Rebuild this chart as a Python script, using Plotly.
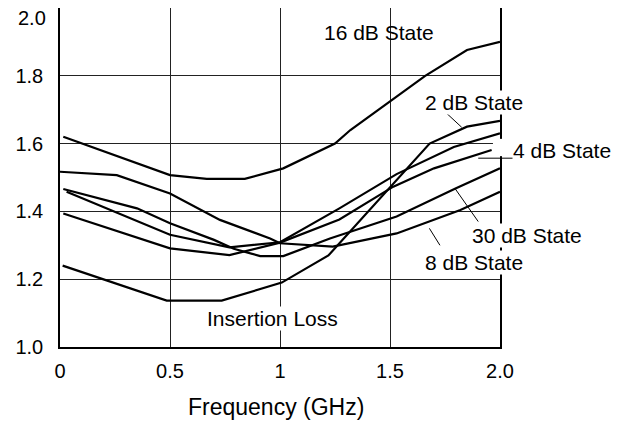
import plotly.graph_objects as go

# ---- data ----
x_16db = [0.015, 0.5, 0.667, 0.84, 1.015, 1.25, 1.32, 1.66, 1.85, 2.0]
y_16db = [1.620, 1.507, 1.496, 1.496, 1.527, 1.600, 1.640, 1.800, 1.876, 1.900]

x_8db = [0.0, 0.258, 0.5, 0.727, 0.955, 1.0, 1.24, 1.53, 1.82, 2.0]
y_8db = [1.517, 1.507, 1.453, 1.375, 1.320, 1.306, 1.296, 1.335, 1.404, 1.458]

x_30db = [0.015, 0.35, 0.5, 0.70, 0.79, 0.91, 1.015, 1.227, 1.53, 1.80, 2.0]
y_30db = [1.466, 1.409, 1.365, 1.316, 1.290, 1.268, 1.268, 1.320, 1.385, 1.468, 1.527]

x_d = [0.03, 0.5, 0.77, 1.0, 1.27, 1.53, 1.79, 2.0]
y_d = [1.458, 1.331, 1.294, 1.309, 1.409, 1.510, 1.590, 1.630]

x_4db = [0.015, 0.5, 0.77, 1.0, 1.27, 1.515, 1.70, 1.962]
y_4db = [1.394, 1.291, 1.271, 1.308, 1.376, 1.473, 1.527, 1.581]

x_il = [0.012, 0.485, 0.735, 1.008, 1.22, 1.68, 1.85, 2.0]
y_il = [1.240, 1.137, 1.137, 1.190, 1.270, 1.600, 1.650, 1.667]

X_RANGE = [0, 2]
Y_RANGE = [1, 2]
x_ticks = [0, 0.5, 1, 1.5, 2.0]
x_ticktext = ["0", "0.5", "1", "1.5", "2.0"]
y_ticks = [1.0, 1.2, 1.4, 1.6, 1.8]
y_ticktext = ["1.0", "1.2", "1.4", "1.6", "1.8"]
y_top_tick = "2.0"

labels = ["16 dB State", "2 dB State", "4 dB State", "30 dB State", "8 dB State", "Insertion Loss"]
label_x = [1.45, 1.882, 2.283, 2.121, 1.884, 0.966]
label_y = [1.929, 1.721, 1.580, 1.330, 1.249, 1.083]
label_bg = [False, True, True, True, True, True]

# leader lines (x0, y0, x1, y1)
leaders = [
    (1.758, 1.689, 1.826, 1.648),
    (1.901, 1.557, 2.068, 1.557),
    (1.795, 1.468, 1.901, 1.370),
    (1.679, 1.350, 1.727, 1.300),
]

FONT = "Liberation Sans, Arial, Helvetica, sans-serif"


def px(v):
    return (v - X_RANGE[0]) / (X_RANGE[1] - X_RANGE[0])


def py(v):
    return (v - Y_RANGE[0]) / (Y_RANGE[1] - Y_RANGE[0])


fig = go.Figure()
series = [
    ("16 dB State", x_16db, y_16db),
    ("8 dB State", x_8db, y_8db),
    ("30 dB State", x_30db, y_30db),
    ("State", x_d, y_d),
    ("4 dB State", x_4db, y_4db),
    ("Insertion Loss", x_il, y_il),
]
for name, xs, ys in series:
    fig.add_trace(go.Scatter(x=xs, y=ys, mode="lines", name=name,
                             line=dict(color="black", width=2.2),
                             showlegend=False, cliponaxis=False))

for (x0, y0, x1, y1) in leaders:
    fig.add_shape(type="line", xref="paper", yref="paper",
                  x0=px(x0), y0=py(y0), x1=px(x1), y1=py(y1),
                  line=dict(color="black", width=1), layer="above")

# white gap in frame behind the 4 dB label
fig.add_shape(type="rect", xref="paper", yref="paper",
              x0=px(1.968), x1=px(2.03), y0=py(1.563), y1=py(1.614),
              fillcolor="white", line=dict(width=0), layer="above")

for t, lx, ly, bg in zip(labels, label_x, label_y, label_bg):
    fig.add_annotation(x=px(lx), y=py(ly), xref="paper", yref="paper", text=t,
                       showarrow=False, xanchor="center", yanchor="middle",
                       font=dict(family=FONT, size=21, color="black"),
                       bgcolor="white" if bg else "rgba(0,0,0,0)", borderpad=0)

# top y tick label (sits just below the top edge in the reference)
fig.add_annotation(x=0, y=1, xref="paper", yref="paper", text=y_top_tick,
                   showarrow=False, xanchor="right", yanchor="top", xshift=-12, yshift=3,
                   font=dict(family=FONT, size=20, color="black"))

# x axis title
fig.add_annotation(x=px(0.984), y=py(0.822), xref="paper", yref="paper",
                   text="Frequency (GHz)", showarrow=False,
                   xanchor="center", yanchor="middle",
                   font=dict(family=FONT, size=23, color="black"))

fig.update_xaxes(range=X_RANGE, tickvals=x_ticks, ticktext=x_ticktext,
                 showgrid=True, gridcolor="#222", gridwidth=1.2,
                 showline=True, linecolor="black", linewidth=1.5, mirror=True,
                 zeroline=False, ticks="", ticklabelstandoff=5, automargin=False,
                 tickfont=dict(family=FONT, size=20, color="black"))
fig.update_yaxes(range=Y_RANGE, tickvals=y_ticks, ticktext=y_ticktext,
                 showgrid=True, gridcolor="#222", gridwidth=1.2,
                 showline=True, linecolor="black", linewidth=1.5, mirror=True,
                 zeroline=False, ticks="", ticklabelstandoff=11, automargin=False,
                 tickfont=dict(family=FONT, size=20, color="black"))

# page body adds an 8px offset; margins compensate so the plot lands at 60..500 x 8..347
fig.update_layout(width=629, height=425, margin=dict(l=52, r=137, t=0, b=86),
                  plot_bgcolor="white", paper_bgcolor="white")

fig.write_html("out.html")
